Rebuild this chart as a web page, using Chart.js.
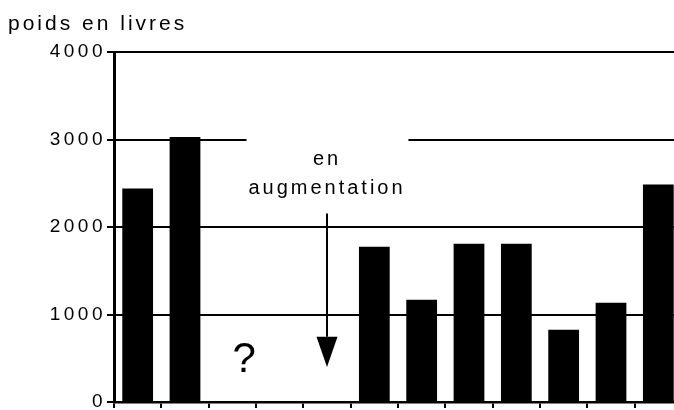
<!DOCTYPE html>
<html>
<head>
<meta charset="utf-8">
<script src="https://cdn.jsdelivr.net/npm/chart.js@4.4.1/dist/chart.umd.min.js"></script>
<style>
  html, body { margin: 0; padding: 0; background: #fff; overflow: hidden; }
  #wrap { width: 682px; height: 410px; }
</style>
</head>
<body>
<div id="wrap"><canvas id="chart"></canvas></div>
<script>
/* ── data ── */
const categories = ['c1','c2','c3','c4','c5','c6','c7','c8','c9','c10','c11','c12'];
const weights = [2440, 3030, null, null, null, 1775, 1170, 1810, 1810, 825, 1135, 2485];
const yTicks = [0, 1000, 2000, 3000, 4000];
const yTitle = 'poids en livres';

/* annotations, in category index / value units */
const noteLines = [
  { text: 'en', x: 4, y: 2705 },
  { text: 'augmentation', x: 4, y: 2372 }
];
const question = { text: '?', x: 2.25, y: 344 };
const arrow = { x: 4, from: 2155, headTop: 745, to: 400 };
const gridGap = { value: 3000, from: 2.3, to: 5.72 };

const FONT = "'Liberation Sans', Arial, Helvetica, sans-serif";

/* ── custom drawing ── */
const annotate = {
  id: 'annotate',
  beforeDraw(chart) {
    chart.ctx.letterSpacing = '3.5px';   // wide tracking on tick labels
  },
  beforeDatasetsDraw(chart) {
    // break in the 3000 gridline where the label sits
    const { ctx, scales: { x, y } } = chart;
    const yy = y.getPixelForValue(gridGap.value);
    const x0 = x.getPixelForValue(gridGap.from);
    ctx.save();
    ctx.fillStyle = '#fff';
    ctx.fillRect(x0, yy - 3, x.getPixelForValue(gridGap.to) - x0, 6);
    ctx.restore();
  },
  afterDatasetsDraw(chart) {
    const { ctx, scales: { x, y } } = chart;
    ctx.save();
    ctx.letterSpacing = '3px';
    ctx.fillStyle = '#000';
    ctx.textAlign = 'center';
    ctx.textBaseline = 'alphabetic';
    ctx.font = '20px ' + FONT;
    noteLines.forEach(n => ctx.fillText(n.text, x.getPixelForValue(n.x), y.getPixelForValue(n.y)));

    ctx.letterSpacing = '0px';
    ctx.font = '42px ' + FONT;
    ctx.fillText(question.text, x.getPixelForValue(question.x), y.getPixelForValue(question.y));

    // arrow
    const ax = x.getPixelForValue(arrow.x);
    ctx.strokeStyle = '#000';
    ctx.lineWidth = 2;
    ctx.beginPath();
    ctx.moveTo(ax, y.getPixelForValue(arrow.from));
    ctx.lineTo(ax, y.getPixelForValue(arrow.headTop));
    ctx.stroke();
    ctx.beginPath();
    ctx.moveTo(ax - 10.5, y.getPixelForValue(arrow.headTop));
    ctx.lineTo(ax + 10.5, y.getPixelForValue(arrow.headTop));
    ctx.lineTo(ax, y.getPixelForValue(arrow.to));
    ctx.closePath();
    ctx.fill();
    ctx.restore();
  },
  afterDraw(chart) {
    // axis title, top left
    const ctx = chart.ctx;
    ctx.save();
    ctx.letterSpacing = '3px';
    ctx.fillStyle = '#000';
    ctx.textAlign = 'left';
    ctx.textBaseline = 'alphabetic';
    ctx.font = '21px ' + FONT;
    ctx.fillText(yTitle, 8, 30);
    ctx.restore();
  }
};

new Chart(document.getElementById('chart'), {
  type: 'bar',
  data: {
    labels: categories,
    datasets: [{
      data: weights,
      backgroundColor: '#000',
      borderWidth: 0,
      categoryPercentage: 1,
      barPercentage: 0.65
    }]
  },
  options: {
    responsive: true,
    maintainAspectRatio: false,
    animation: false,
    layout: { padding: { top: 52, left: 0, right: 0, bottom: 0 } },
    plugins: {
      legend: { display: false },
      tooltip: { enabled: false },
      title: { display: false }
    },
    scales: {
      x: {
        offset: true,
        grid: { offset: true, drawOnChartArea: false, drawTicks: true, tickLength: 6, color: '#000', lineWidth: 2 },
        border: { color: '#000', width: 2.5 },
        ticks: { display: false },
        afterFit(s) { s.height = 8; }
      },
      y: {
        min: 0,
        max: 4000,
        afterBuildTicks(s) { s.ticks = yTicks.map(v => ({ value: v })); },
        grid: { color: '#000', lineWidth: 2, tickLength: 7, drawTicks: true },
        border: { color: '#000', width: 3 },
        ticks: {
          color: '#000',
          padding: 1,
          font: { family: FONT, size: 19, lineHeight: 0.8 },
          callback: v => String(v)
        },
        afterFit(s) { s.width = 114; s.paddingTop = 0; s.paddingBottom = 0; }
      }
    }
  },
  plugins: [annotate]
});
</script>
</body>
</html>
